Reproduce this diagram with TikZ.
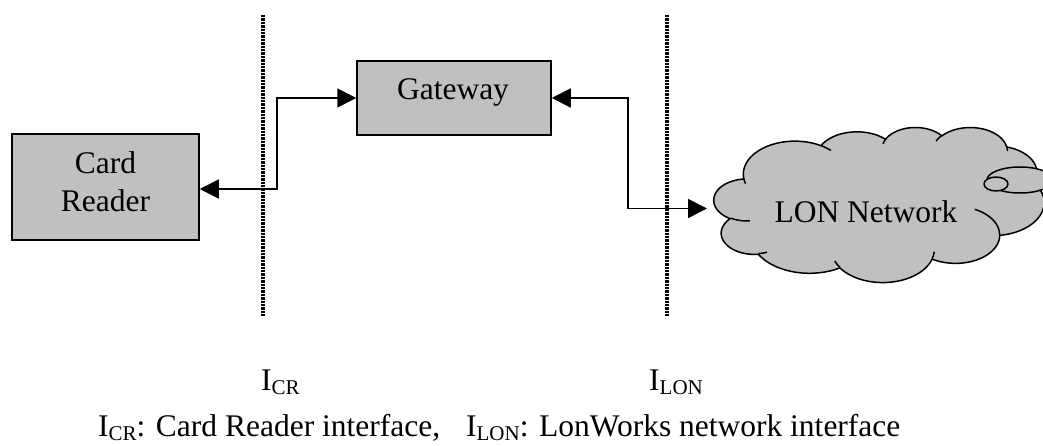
\documentclass[tikz,border=0pt]{standalone}
\usepackage{fontspec}
\setmainfont{Liberation Serif}
\usetikzlibrary{arrows.meta}

\definecolor{panelgray}{RGB}{192,192,192}

% lowered, smaller text for interface indices
\newcommand\subtxt[1]{\raisebox{-4pt}{\fontsize{21pt}{21pt}\selectfont #1}}

% Cloud outline made of elliptical lobes; each lobe starts at the current
% point (\lobecx,\lobecy); angles are the angles as seen, y axis downwards.
\newcommand\lobecx{0}
\newcommand\lobecy{0}
\newcommand\lobepath{}
\newcommand\creasepath{}
\newcommand\lobecalc[4]{%
  \pgfmathsetmacro\lobeA{#3}%
  \pgfmathsetmacro\lobeB{#3+#4}%
  \pgfmathsetmacro\lobeTa{atan2((#1)*sin(\lobeA),(#2)*cos(\lobeA))}%
  \pgfmathsetmacro\lobeTb{atan2((#1)*sin(\lobeB),(#2)*cos(\lobeB))}%
  \pgfmathsetmacro\lobeTb{\lobeTb+360*round((\lobeTa+(#4)-\lobeTb)/360)}%
  \pgfmathsetmacro\lobeOx{\lobecx-(#1)*cos(\lobeTa)}%
  \pgfmathsetmacro\lobeOy{\lobecy-(#2)*sin(\lobeTa)}%
  \edef\lobeseg{plot[domain=\lobeTa:\lobeTb,samples=40]
    ({\lobeOx+(#1)*cos(\noexpand\x)},{\lobeOy+(#2)*sin(\noexpand\x)})}%
}
\newcommand\lobe[4]{%
  \lobecalc{#1}{#2}{#3}{#4}%
  \edef\lobepath{\unexpanded\expandafter{\lobepath} -- \unexpanded\expandafter{\lobeseg}}%
  \pgfmathsetmacro\lobecx{\lobeOx+(#1)*cos(\lobeTb)}%
  \pgfmathsetmacro\lobecy{\lobeOy+(#2)*sin(\lobeTb)}%
}
\newcommand\crease[6]{%
  \def\lobecx{#1}\def\lobecy{#2}%
  \lobecalc{#3}{#4}{#5}{#6}%
  \edef\creasepath{\unexpanded\expandafter{\creasepath} (#1,#2) -- \unexpanded\expandafter{\lobeseg}}%
}

\begin{document}
\begin{tikzpicture}[x=1pt,y=-1pt,
  panel/.style={draw=black,line width=1.5pt,fill=panelgray,inner sep=0pt},
  txt/.style={font=\fontsize{31.5pt}{38.4pt}\selectfont,inner sep=0pt,text=black},
  link/.style={line width=1.6pt,>={Triangle[length=19pt,width=19pt]},<->},
  divider/.style={line width=3.2pt,dash pattern=on 2.4pt off 1pt},
  outline/.style={line width=1.5pt,line join=round}]

\fill[white] (0,0) rectangle (1043,446);
\useasboundingbox (0,0) rectangle (1043,446);
\clip (0,0) rectangle (1043,446);

% LON network cloud
\begin{scope}[shift={(714,127)},x=0.763889pt,y=-0.358796pt]
  \def\lobecx{39}\def\lobecy{143.7}
  \lobe{67.53}{91.90}{-190.48748}{123.78053}
  \lobe{53.33}{72.67}{-144.10238}{89.94523}
  \lobe{43.65}{59.45}{-145.80792}{99.72302}
  \lobe{48.57}{65.95}{-130.98607}{117.24173}
  \lobe{53.33}{72.73}{-78.70888}{109.02692}
  \lobe{67.75}{92.20}{-46.26725}{130.26900}
  \lobe{57.85}{78.67}{0.62502}{114.03333}
  \lobe{67.52}{92.15}{22.45160}{115.17255}
  \lobe{77.20}{105.43}{66.24263}{75.71102}
  \lobe{43.60}{59.18}{-274.94208}{146.73557}
  \lobe{43.45}{59.45}{-246.82850}{152.51885}
  \draw[outline,fill=panelgray] (39,143.7) \lobepath -- cycle;
  \crease{46.93}{261.77}{43.45}{59.45}{86.742}{26.4295}
  \crease{69.28}{348.99}{43.60}{59.18}{73.61047}{11.44747}
  \crease{164.78}{390.90}{67.52}{92.15}{137.62415}{14.0811}
  \crease{288.27}{347.51}{67.52}{92.15}{6.45327}{15.99835}
  \crease{341.29}{229.54}{57.85}{78.67}{-70.29235}{70.91737}
  \crease{417.98}{153.54}{53.33}{72.73}{30.31803}{27.7515}
  \crease{383.24}{54.26}{48.57}{65.95}{-13.74433}{14.8589}
  \crease{290.78}{39.52}{48.57}{65.95}{-149.18145}{18.19537}
  \crease{221.41}{47.20}{43.65}{59.45}{-163.49427}{17.68635}
  \crease{140.00}{51.92}{67.53}{91.90}{-66.70695}{12.31935}
  \crease{41.27}{157.89}{67.53}{91.90}{157.65435}{11.85817}
  \draw[outline] \creasepath;
\end{scope}
\draw[outline,fill=panelgray] (1020,180) ellipse [x radius=33pt,y radius=13pt];
\draw[outline,fill=panelgray] (996,184) ellipse [x radius=12pt,y radius=7pt];
\node[txt,anchor=base] (lon) at (866,223) {LON Network};
\coordinate (lonin) at (707,208.5);

% blocks
\node[panel,minimum width=187pt,minimum height=106pt] (cr) at (105.5,187) {};
\node[txt,align=center] (crtext) at (105.5,181.8) {Card\\Reader};
\node[panel,minimum width=194pt,minimum height=74pt] (gw) at (454,98) {};
\node[txt,anchor=base] (gwtext) at (453,99.3) {Gateway};

% connections
\coordinate (j1) at (277,0);
\coordinate (j2) at (628,0);
\draw[link] ([yshift=-2pt]cr.east) -| (j1 |- gw.west) -- (gw.west);
\draw[link] (gw.east) -| (j2 |- lonin) -- (lonin);

% interface boundaries
\coordinate (icrtop) at (263,15);
\coordinate (icrbot) at (263,316);
\coordinate (ilontop) at (667,15);
\coordinate (ilonbot) at (667,316);
\draw[divider] (icrtop) -- (icrbot);
\draw[divider] (ilontop) -- (ilonbot);

% labels
\node[txt,anchor=base west] (icr) at (261,390) {I\subtxt{CR}};
\node[txt,anchor=base west] (ilon) at (649,390) {I\subtxt{LON}};
\node[txt,anchor=base west] (legend) at (98,436)
  {I\subtxt{CR}: Card Reader interface,\hspace{26pt}I\subtxt{LON}: LonWorks network interface};
\end{tikzpicture}
\end{document}
